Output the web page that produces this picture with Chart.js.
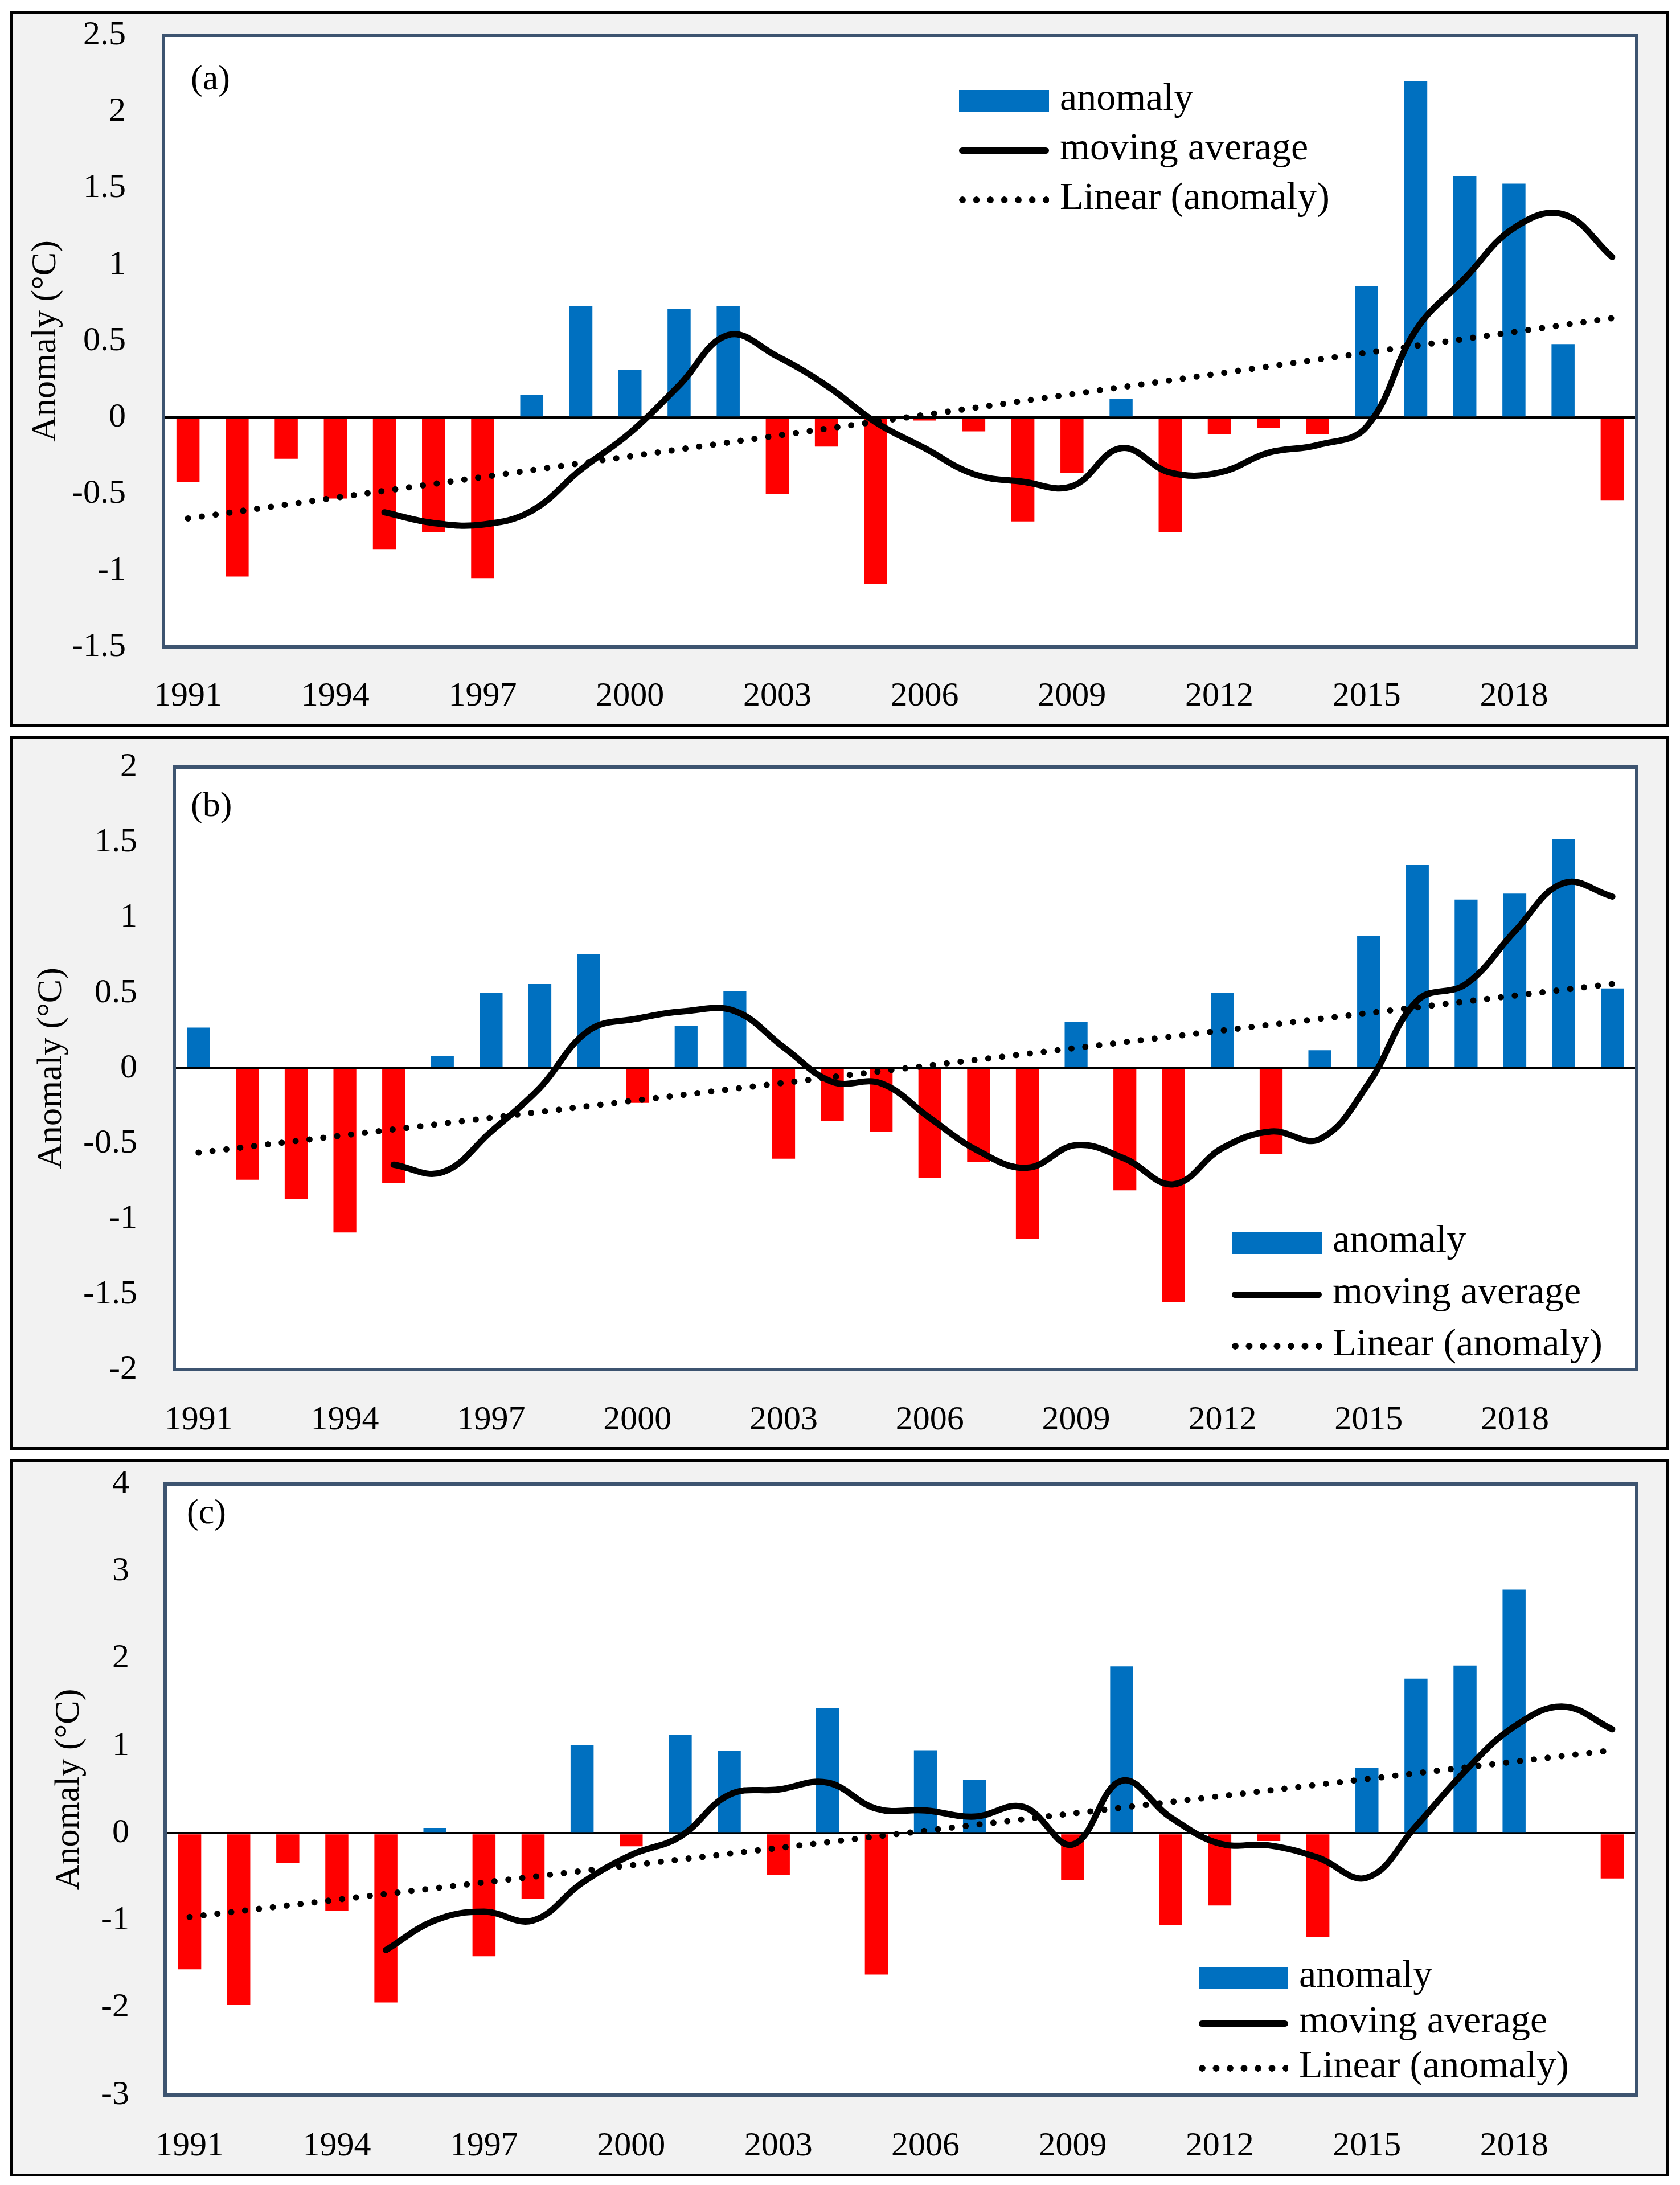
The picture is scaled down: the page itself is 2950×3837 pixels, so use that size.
<!DOCTYPE html>
<html>
<head>
<meta charset="utf-8">
<script src="https://cdn.jsdelivr.net/npm/chart.js@4.4.0/dist/chart.umd.min.js"></script>
<style>
  body { margin: 0; width: 2950px; height: 3837px; background: #fff; position: relative; overflow: hidden; font-family: "Liberation Serif", serif; color: #000; }
  .panel { position: absolute; left: 17px; width: 2914px; box-sizing: border-box; border: 5px solid #000; background: #f2f2f2; }
  .panel canvas { position: absolute; left: 0; top: 0; }
  .tag { position: absolute; font-size: 62px; line-height: 1; white-space: nowrap; }
  .lg-text { position: absolute; font-size: 68px; line-height: 1; white-space: nowrap; }
  .lg-sw { position: absolute; }
</style>
</head>
<body>
<div class="panel" id="pa" style="top:19px;height:1257px"><canvas id="ca"></canvas></div>
<div class="panel" id="pb" style="top:1292px;height:1254px"><canvas id="cb"></canvas></div>
<div class="panel" id="pc" style="top:2562px;height:1260px"><canvas id="cc"></canvas></div>

<script>
// years on the category axis
const years = ['1991','1992','1993','1994','1995','1996','1997','1998','1999','2000',
  '2001','2002','2003','2004','2005','2006','2007','2008','2009','2010',
  '2011','2012','2013','2014','2015','2016','2017','2018','2019','2020'];

// panel (a)
const anomA = [-0.42,-1.04,-0.27,-0.53,-0.86,-0.75,-1.05,0.15,0.73,0.31,
  0.71,0.73,-0.50,-0.19,-1.09,-0.02,-0.09,-0.68,-0.36,0.12,
  -0.75,-0.11,-0.07,-0.11,0.86,2.20,1.58,1.53,0.48,-0.54];
const movAvgA = [null,null,null,null,-0.62,-0.69,-0.70,-0.61,-0.34,-0.10,
  0.21,0.54,0.40,0.21,-0.03,-0.20,-0.37,-0.42,-0.45,-0.20,
  -0.36,-0.36,-0.23,-0.18,-0.06,0.57,0.91,1.24,1.33,1.05];
const trendA = [-0.66, 0.65];

// panel (b)
const anomB = [0.27,-0.74,-0.87,-1.09,-0.76,0.08,0.50,0.56,0.76,-0.23,
  0.28,0.51,-0.60,-0.35,-0.42,-0.73,-0.62,-1.13,0.31,-0.81,
  -1.55,0.50,-0.57,0.12,0.88,1.35,1.12,1.16,1.52,0.53];
const movAvgB = [null,null,null,null,-0.64,-0.69,-0.42,-0.13,0.25,0.33,
  0.38,0.38,0.14,-0.09,-0.10,-0.33,-0.55,-0.66,-0.51,-0.60,
  -0.77,-0.53,-0.42,-0.47,-0.10,0.45,0.56,0.91,1.23,1.14];
const trendB = [-0.56, 0.56];

// panel (c)
const anomC = [-1.56,-1.97,-0.34,-0.89,-1.94,0.06,-1.41,-0.75,1.01,-0.15,
  1.13,0.94,-0.48,1.43,-1.62,0.95,0.61,0,-0.54,1.91,
  -1.05,-0.83,-0.09,-1.19,0.75,1.77,1.92,2.79,0,-0.52];
const movAvgC = [null,null,null,null,-1.34,-1.00,-0.90,-1.00,-0.57,-0.25,
  -0.04,0.44,0.50,0.58,0.28,0.26,0.19,0.30,-0.13,0.60,
  0.18,-0.12,-0.14,-0.28,-0.51,0.08,0.71,1.22,1.45,1.19];
const trendC = [-0.96, 0.95];

const seriesLabels = ['anomaly', 'moving average', 'Linear (anomaly)'];

Chart.defaults.font.family = '"Liberation Serif", serif';
Chart.defaults.color = '#000';

// white plot area with the slate frame around it
const plotFrame = {
  id: 'plotFrame',
  beforeDraw(chart) {
    const { ctx, chartArea: a } = chart;
    ctx.save();
    ctx.fillStyle = '#fff';
    ctx.fillRect(a.left, a.top, a.width, a.height);
    ctx.restore();
  },
  afterDraw(chart) {
    const { ctx, chartArea: a } = chart;
    ctx.save();
    ctx.strokeStyle = '#3d5470';
    ctx.lineWidth = 6;
    ctx.strokeRect(a.left, a.top, a.width, a.height);
    ctx.restore();
  }
};

function makePanel(canvasId, anom, movAvg, trend, box) {
  const canvas = document.getElementById(canvasId);
  canvas.width = box.w;
  canvas.height = box.h;
  canvas.style.width = box.w + 'px';
  canvas.style.height = box.h + 'px';

  // trend line only has its two end values; the line joins them
  const trendData = years.map(() => null);
  trendData[0] = trend[0];
  trendData[years.length - 1] = trend[1];

  return new Chart(canvas, {
    type: 'bar',
    data: {
      labels: years,
      datasets: [
        {
          type: 'bar',
          label: seriesLabels[0],
          data: anom,
          backgroundColor: anom.map(v => (v >= 0 ? '#0070C0' : '#FF0000')),
          borderWidth: 0,
          barPercentage: 0.47,
          categoryPercentage: 1,
          order: 3
        },
        {
          type: 'line',
          label: seriesLabels[1],
          data: movAvg,
          borderColor: '#000',
          borderWidth: 11,
          borderCapStyle: 'round',
          borderJoinStyle: 'round',
          tension: 0.4,
          pointRadius: 0,
          fill: false,
          order: 2
        },
        {
          type: 'line',
          label: seriesLabels[2],
          data: trendData,
          spanGaps: true,
          borderColor: '#000',
          borderWidth: 11,
          borderDash: [0, 24.5],
          borderCapStyle: 'round',
          pointRadius: 0,
          fill: false,
          order: 1
        }
      ]
    },
    options: {
      responsive: false,
      animation: false,
      devicePixelRatio: 1,
      layout: { padding: { top: box.top, right: box.right, left: 0, bottom: 0 } },
      plugins: { legend: { display: false }, tooltip: { enabled: false } },
      scales: {
        x: {
          offset: true,
          grid: { display: false, drawTicks: true, tickLength: box.xTick },
          border: { display: false },
          ticks: {
            autoSkip: false,
            maxRotation: 0,
            padding: 0,
            font: { size: 60 },
            callback: (v, i) => (i % 3 === 0 ? years[i] : '')
          },
          afterFit: s => { s.height = box.xH; }
        },
        y: {
          min: box.min,
          max: box.max,
          border: { display: false },
          grid: {
            drawTicks: true,
            tickLength: box.yTick,
            tickColor: 'transparent',
            color: c => (c.tick && c.tick.value === 0 ? '#000' : 'transparent'),
            lineWidth: c => (c.tick && c.tick.value === 0 ? 4 : 0)
          },
          ticks: {
            stepSize: box.step,
            padding: 0,
            font: { size: 60 },
            callback: v => String(v)
          },
          title: {
            display: true,
            text: 'Anomaly (°C)',
            font: { size: 62 },
            padding: { top: box.titlePad, bottom: 0 }
          },
          afterFit: s => { s.width = box.yW; }
        }
      }
    },
    plugins: [plotFrame]
  });
}

function addTag(text, left, cy) {
  const d = document.createElement('div');
  d.className = 'tag';
  d.textContent = text;
  d.style.left = left + 'px';
  d.style.top = (cy - 38) + 'px';
  document.body.appendChild(d);
}

// legend drawn from the chart's own dataset labels
function addLegend(chart, sx, sw, tx, rows) {
  chart.data.datasets.forEach((ds, i) => {
    const cy = rows[i];
    const sq = document.createElement('div');
    sq.className = 'lg-sw';
    sq.style.left = sx + 'px';
    sq.style.width = sw + 'px';
    if (i === 0) {
      sq.style.height = '39px';
      sq.style.top = (cy - 19.5) + 'px';
      sq.style.background = '#0070C0';
    } else if (i === 1) {
      sq.style.height = '11px';
      sq.style.top = (cy - 5.5) + 'px';
      sq.style.background = '#000';
      sq.style.borderRadius = '6px';
    } else {
      sq.style.height = '12px';
      sq.style.top = (cy - 6) + 'px';
      sq.style.background = 'radial-gradient(circle at 6px 6px, #000 5.5px, transparent 6px) repeat-x';
      sq.style.backgroundSize = '24.5px 12px';
    }
    document.body.appendChild(sq);

    const t = document.createElement('div');
    t.className = 'lg-text';
    t.textContent = ds.label;
    t.style.left = tx + 'px';
    t.style.top = (cy - 41) + 'px';
    document.body.appendChild(t);
  });
}

const chartA = makePanel('ca', anomA, movAvgA, trendA,
  { w: 2904, h: 1247, top: 38, right: 52, yW: 265, xH: 135, yTick: 66, xTick: 51, titlePad: 22, min: -1.5, max: 2.5, step: 0.5 });
const chartB = makePanel('cb', anomB, movAvgB, trendB,
  { w: 2904, h: 1244, top: 50, right: 52, yW: 284, xH: 136, yTick: 65, xTick: 53, titlePad: 32, min: -2, max: 2, step: 0.5 });
const chartC = makePanel('cc', anomC, movAvgC, trendC,
  { w: 2904, h: 1250, top: 39, right: 52, yW: 268, xH: 138, yTick: 63, xTick: 54, titlePad: 63, min: -3, max: 4, step: 1 });

addTag('(a)', 335, 143);
addTag('(b)', 335, 1419);
addTag('(c)', 328, 2661);

addLegend(chartA, 1684, 158, 1861, [177, 264, 351]);
addLegend(chartB, 2163, 158, 2340, [2182, 2273, 2364]);
addLegend(chartC, 2105, 157, 2281, [3473, 3553, 3632]);
</script>
</body>
</html>
